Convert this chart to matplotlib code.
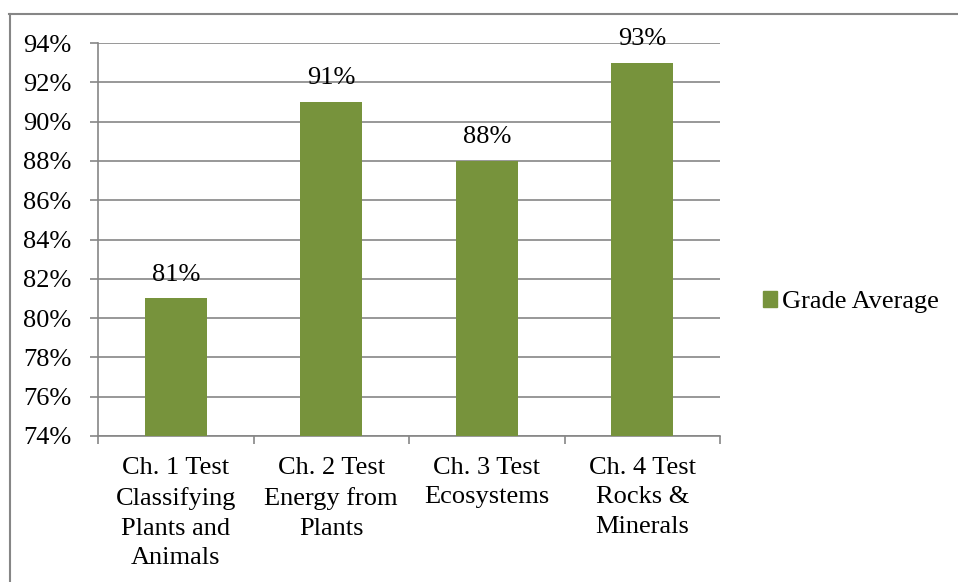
import matplotlib.pyplot as plt
from matplotlib.lines import Line2D
from matplotlib.patches import Patch

categories = ["Ch. 1 Test\nClassifying\nPlants and\nAnimals",
              "Ch. 2 Test\nEnergy from\nPlants",
              "Ch. 3 Test\nEcosystems",
              "Ch. 4 Test\nRocks &\nMinerals"]
values = [81, 91, 88, 93]
series_name = "Grade Average"
yticks = list(range(74, 96, 2))

bar_color = "#77933C"
grid_color = "#868686"

plt.rcParams['font.family'] = ['Liberation Serif', 'DejaVu Serif']
fs = 19

W, H = 958, 582
fig = plt.figure(figsize=(W / 100, H / 100), dpi=100)
ax = fig.add_axes([98 / W, 1 - 436 / H, (720 - 98) / W, (436 - 43) / H])

x = list(range(len(values)))
ax.bar(x, values, width=0.4, color=bar_color, zorder=3)
for xi, v in zip(x, values):
    ax.annotate(f"{v}%", (xi, v), xytext=(0, 9), textcoords="offset points",
                ha="center", va="bottom", fontsize=fs)

ax.set_ylim(74, 94)
ax.set_xlim(-0.5, len(values) - 0.5)
ax.set_yticks(yticks)
ax.set_yticklabels([f"{t}%" for t in yticks], fontsize=fs)
ax.yaxis.grid(True, color=grid_color, linewidth=1.2, zorder=0)
ax.tick_params(axis="y", length=6, width=1.2, color=grid_color, pad=13)

ax.set_xticks([i - 0.5 for i in range(len(values) + 1)])
ax.set_xticklabels([])
ax.set_xticks(x, minor=True)
ax.set_xticklabels(categories, minor=True, fontsize=fs, linespacing=1.45)
ax.tick_params(axis="x", which="major", length=6, width=1.2, color=grid_color)
ax.tick_params(axis="x", which="minor", length=0, pad=15)

for s in ["top", "right"]:
    ax.spines[s].set_visible(False)
for s in ["left", "bottom"]:
    ax.spines[s].set_color(grid_color)
    ax.spines[s].set_linewidth(1.2)

# outer chart frame (only left and top edges are visible)
fig.add_artist(Line2D([9.5 / W, 9.5 / W], [0, 1 - 14 / H], transform=fig.transFigure,
                      color=grid_color, linewidth=1.5))
fig.add_artist(Line2D([9 / W, 1], [1 - 14 / H, 1 - 14 / H], transform=fig.transFigure,
                      color=grid_color, linewidth=1.5))

fig.legend(handles=[Patch(color=bar_color, label=series_name)],
           loc="center left", bbox_to_anchor=(752 / W, 1 - 302 / H),
           frameon=False, fontsize=fs, handlelength=0.55, handleheight=0.55,
           handletextpad=0.2, borderaxespad=0)

fig.savefig("out.png", dpi=100)
